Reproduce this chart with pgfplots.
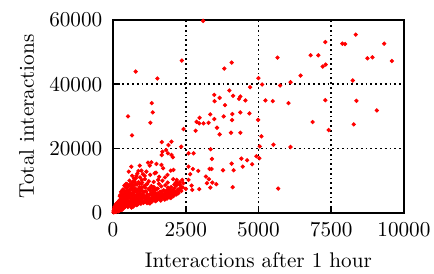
\documentclass[border=0pt]{standalone}
\usepackage{pgfplots}
\pgfplotsset{compat=1.18}
\begin{document}
\begin{tikzpicture}
\begin{axis}[
  scale only axis, width=137.3pt, height=91pt,
  xmin=0, xmax=10000, ymin=0, ymax=60000,
  xtick={0,2500,5000,7500,10000},
  ytick={0,20000,40000,60000},
  scaled ticks=false,
  /pgf/number format/1000 sep={},
  tick pos=left, tick align=inside,
  major tick length=2.8pt,
  every tick/.style={black, line width=0.8pt},
  axis line style={black, line width=0.8pt},
  grid=major,
  major grid style={black, line width=0.85pt, dash pattern=on 0.85pt off 1.4pt},
  yticklabel style={xshift=-1.5pt},
  xticklabel style={yshift=-1.3pt},
  xlabel={Interactions after 1 hour},
  ylabel={Total interactions},
  xlabel style={yshift=-0.8pt},
  ylabel style={yshift=0.3pt},
  clip=false,
]
\addplot[only marks, mark=*, mark size=0.8pt, color=red, mark options={fill=red, draw=red}] coordinates {
(3100,59700)
(2368,47350) (782,43940) (1529,41770) (3828,44870) (4080,46730) (5000,41860) (4713,39070)
(1333,34110) (1368,31220) (517,29980) (3483,36690) (4000,38050) (4127,36390) (4379,36180)
(4552,34950) (4334,35440) (3666,35750) (3493,34730) (3851,33490) (3345,30600) (2976,29550)
(3483,29150) (3805,29980) (4103,30700) (4379,31220)
(8345,55410) (7885,52620) (7976,52500) (9321,52620) (7299,53110) (6793,48990) (7058,48990)
(5655,48270) (8747,48060) (8920,48370) (9586,47220) (7207,45480) (7310,46100) (6448,42690)
(6103,40620) (5747,39590) (5126,39900) (8241,41150) (5241,34950) (5494,34730) (6034,34110)
(7299,35040) (8368,34820) (9069,31840) (4989,28900)
(6862,28220) (8276,27500) (7414,25740) (5103,23780) (5045,20680) (5517,21180) (6103,20460)
(4931,17580) (5034,16960) (4783,15100) (5679,7530)
(1287,28000) (655,24090) (2873,28310) (2966,27810) (3114,27810) (2839,25520) (2425,26050)
(3286,28000) (3575,26450) (3666,24400) (4058,24900) (4379,24900) (4093,28840) (4690,30910)
(1678,22010) (2011,22110) (1908,21080) (2345,20560) (1701,19000) (1886,18510) (2011,17980)
(1828,19530) (1678,17980) (2598,18510) (2770,18510)
(2059,17270) (2080,13330) (3356,19750) (3402,16740) (2598,14360) (2747,13640) (2931,13020)
(2655,12000) (2598,10230) (2701,8460) (2506,7440) (2724,7130) (2966,7340) (3322,13640)
(3391,13640) (3195,11260) (3299,10450) (3230,9210) (3414,9400) (3552,8900) (3345,7850)
(3782,13230) (4080,15290) (4148,13230) (4414,16840) (4610,16340) (4459,14360) (4114,7960)
(632,14350) (920,14670) (1207,15600) (1322,15710) (1264,14670) (1494,15190) (1667,14880)
(1724,13850) (1988,13110) (1874,11780) (2069,10450) (977,13110) (805,11470) (1092,11470)
(1437,12300) (1552,10230)
(20,150) (35,400) (50,300) (60,800) (80,500) (90,1200) (100,700) (110,300) (120,1500)
(130,900) (140,2100) (150,600) (160,1300) (170,1800) (180,400) (190,2500) (200,1000)
(45,1000) (75,1600) (105,2000) (135,3000) (165,700) (185,3300) (25,600) (55,1900) (65,250)
(95,2600) (115,1100) (145,1700) (175,2900)
(210,1500) (220,2400) (230,3200) (240,800) (250,4100) (260,1900) (270,2800) (280,5000)
(290,1200) (300,3600) (310,2200) (320,6000) (330,4400) (340,1600) (350,2900) (360,5300)
(370,3800) (380,7000) (390,2500) (400,4600) (410,1900) (420,3300) (430,6200) (440,5100)
(450,2700) (460,4000) (470,7800) (480,3000) (490,5600) (500,2100) (215,3800) (235,5200)
(255,2600) (275,6500) (295,4800) (315,3000) (335,7200) (355,1400) (375,4900) (395,8500)
(415,6600) (435,2300) (455,9000) (475,4500) (495,6900) (225,700) (265,1100) (305,900)
(345,3800) (385,1700)
(510,3500) (520,5800) (530,8300) (540,2600) (550,4700) (560,6400) (570,10000) (580,3100)
(590,5200) (600,7400) (610,2200) (620,4300) (630,9200) (640,6000) (650,3600) (660,11500)
(670,5000) (680,7000) (690,2900) (700,8400) (710,4200) (720,6300) (730,3300) (740,9800)
(750,5500) (760,7600) (770,2600) (780,4800) (790,10800) (800,6700) (810,3900) (820,8800)
(830,5300) (840,12200) (850,3000) (860,7200) (870,4500) (880,9500) (890,6000) (900,3500)
(910,8000) (920,5000) (930,11000) (940,4000) (950,6800) (960,2800) (970,9000) (980,5600)
(990,7800) (1000,4300) (515,1800) (545,12800) (575,7000) (605,4800) (635,1600) (665,8800)
(695,6000) (725,10600) (755,3900) (785,7000) (815,2400) (845,5800) (875,13000) (905,4300)
(935,7200) (965,3400) (995,10200)
(1020,6000) (1040,3300) (1060,8200) (1080,4800) (1100,10500) (1120,3800) (1140,6600)
(1160,5000) (1180,9000) (1200,4000) (1220,7400) (1240,3100) (1260,5600) (1280,11800)
(1300,4400) (1320,8300) (1340,3500) (1360,6200) (1380,5000) (1400,9600) (1420,3900)
(1440,7000) (1460,4600) (1480,12500) (1500,5300) (1050,5500) (1110,7800) (1170,3000)
(1230,9800) (1290,6900) (1350,4200) (1410,8000) (1470,3600) (1030,12000) (1150,12800)
(1270,2900) (1390,6800)
(1520,4000) (1540,7500) (1560,5000) (1580,9000) (1600,4300) (1620,6500) (1640,3800)
(1660,8200) (1680,5400) (1700,10000) (1720,4600) (1740,7000) (1760,5800) (1780,4100)
(1800,8600) (1820,5000) (1840,6200) (1860,4400) (1880,9400) (1900,5600) (1920,7200)
(1940,4800) (1960,6400) (1980,5200) (2000,8000) (1590,11200) (1690,6000) (1790,11000)
(1890,7800) (1990,4600)
(2020,5500) (2050,6800) (2080,5200) (2110,7600) (2140,6000) (2170,8400) (2200,6600)
(2230,9200) (2260,7000) (2300,9500) (2340,8000) (2380,10200) (2195,10230) (2160,9400)
(2265,9000) (2110,8800) (2080,7000) (2300,8700) (2420,9200)
(300,1500) (400,1700) (500,2300) (600,2600) (700,2500) (800,3100) (900,3000) (1000,3400)
(1100,3600) (1200,3700) (1300,4000) (1400,4300) (1500,4500) (1600,4800) (1700,4900)
(1800,5300) (1900,5100) (2000,5700) (2100,5800) (2200,6200) (650,2300) (750,2900)
(850,2600) (950,3800) (1050,3100) (1150,4200) (1250,3600) (1350,4700) (1450,4000)
(1550,5200) (1650,4400) (1750,5600) (1850,5000) (1950,6000) (2050,5400) (2150,6400)
(2250,6100) (2350,6800) (700,1950)
(240,2900) (260,5600) (280,3300) (320,4700) (340,2400) (360,6900) (380,3100) (400,5900)
(420,8100) (440,3600) (460,6400) (480,4600) (500,8800) (520,3800) (540,6900) (560,3000)
(580,8600) (600,5700) (620,3400) (640,7800) (660,4500) (680,9600) (700,5700) (720,3800)
(740,7200) (760,4600) (780,9000) (800,5300) (820,3600) (840,6700) (860,5200) (880,3900)
(900,7000) (920,9200) (940,5800) (960,4700) (980,7000) (1000,9400) (1020,4600) (1060,6600)
(1100,5000) (1140,8800) (1180,5800) (1220,4700) (1260,7600) (1300,6000) (1340,5400)
(1380,7400) (1420,5600) (1460,6200) (1500,7400) (1540,6000) (1580,5600) (1620,5400)
(1660,6600) (1700,5800) (1740,5100) (1780,6800) (1820,6200) (1860,7000) (1900,6300)
(1940,5500) (1980,7100) (2020,6400) (2060,6100) (2100,6900) (2180,5700) (2240,7300)
(2320,7400) (2400,7900) (150,2400) (120,2700) (90,1800) (70,700) (40,1400)
};
\coordinate (sw) at (rel axis cs:0,0);
\coordinate (ne) at (rel axis cs:1,1);
\end{axis}
\pgfresetboundingbox
\path[use as bounding box] ([xshift=-53.3pt,yshift=-28.8pt]sw) rectangle ([xshift=14.2pt,yshift=9.4pt]ne);
\end{tikzpicture}
\end{document}
